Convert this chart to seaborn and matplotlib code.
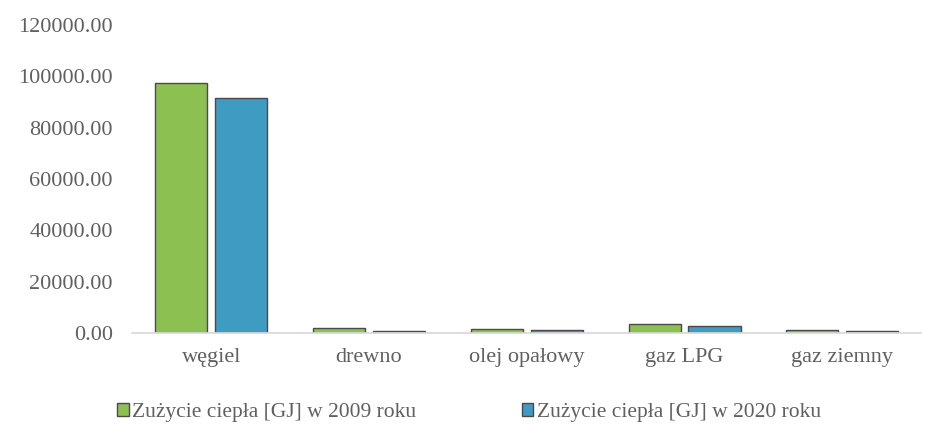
import numpy as np
import pandas as pd
import seaborn as sns
import matplotlib.pyplot as plt
from matplotlib.ticker import FormatStrFormatter

sns.set_theme(style="white")
plt.rcParams['font.family'] = ['Liberation Serif', 'DejaVu Serif']

categories = ["węgiel", "drewno", "olej opałowy", "gaz LPG", "gaz ziemny"]
series = ["Zużycie ciepła [GJ] w 2009 roku", "Zużycie ciepła [GJ] w 2020 roku"]
values_2009 = [97600, 2000, 1400, 3500, 1100]
values_2020 = [91400, 1000, 1200, 2700, 900]

df = pd.DataFrame({
    "kategoria": categories * 2,
    "seria": [series[0]] * 5 + [series[1]] * 5,
    "wartosc": values_2009 + values_2020,
})

my_palette = ["#8cc152", "#3e9cc3"]
txt = "#606060"

fig = plt.figure(figsize=(9.25, 4.32), dpi=100)
ax = fig.add_axes([0.143, 0.229, 0.853, 0.713])

sns.barplot(data=df, x="kategoria", y="wartosc", hue="seria", palette=my_palette,
            width=0.76, gap=0.13, edgecolor="#4a4a4a", linewidth=1.0,
            saturation=1, ax=ax)

ax.set_ylim(0, 120000)
ax.set_yticks(np.arange(0, 120001, 20000))
ax.yaxis.set_major_formatter(FormatStrFormatter("%.2f"))
ax.set_xlim(-0.5, 4.5)
ax.set_xlabel("")
ax.set_ylabel("")
for s in ["top", "right", "left"]:
    ax.spines[s].set_visible(False)
ax.spines["bottom"].set_color("#d9d9d9")
ax.tick_params(axis="y", labelsize=16, colors=txt, length=0, pad=14)
ax.tick_params(axis="x", labelsize=16, colors=txt, length=0, pad=11)

ax.legend(loc="upper center", bbox_to_anchor=(0.4265, -0.165), ncol=2, frameon=False,
          fontsize=15.5, handlelength=0.55, handleheight=0.55, handletextpad=0.15,
          columnspacing=4.9, labelcolor=txt)

plt.savefig("out.png", dpi=100)
